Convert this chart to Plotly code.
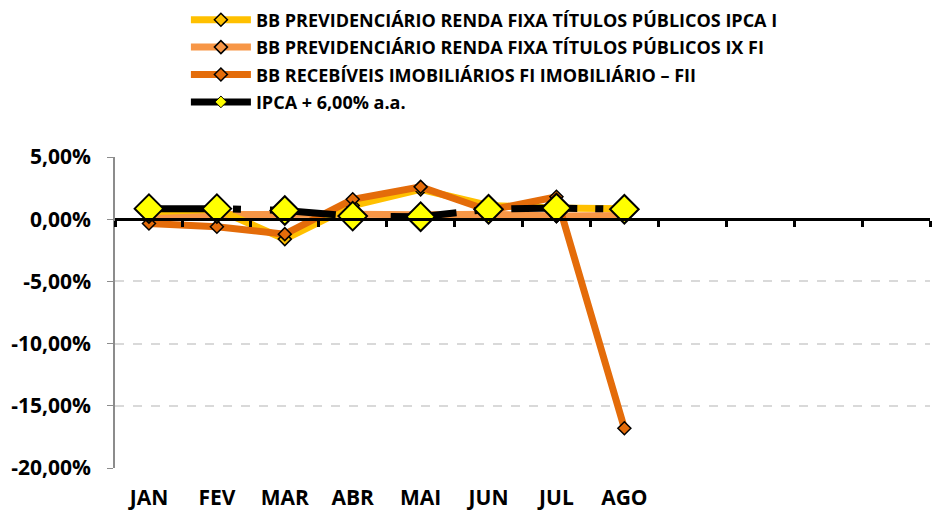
import plotly.graph_objects as go

months = ["JAN", "FEV", "MAR", "ABR", "MAI", "JUN", "JUL", "AGO", "SET", "OUT", "NOV", "DEZ"]
month_labels = ["JAN", "FEV", "MAR", "ABR", "MAI", "JUN", "JUL", "AGO", "", "", "", ""]

ipca_i = [0.6, 0.8, -1.6, 1.1, 2.4, 1.1, 0.9, 0.85]
ix_fi = [0.35, 0.4, 0.45, 0.4, 0.35, 0.4, 0.25, 0.3]
fii = [-0.35, -0.6, -1.2, 1.6, 2.6, 0.7, 1.8, -16.8]
meta = [0.85, 0.85, 0.7, 0.25, 0.2, 0.8, 0.9, 0.8]

y_ticks = [5, 0, -5, -10, -15, -20]
y_tick_text = ["5,00%", "0,00%", "-5,00%", "-10,00%", "-15,00%", "-20,00%"]

names = [
    "BB PREVIDENCIÁRIO RENDA FIXA TÍTULOS PÚBLICOS IPCA I",
    "BB PREVIDENCIÁRIO RENDA FIXA TÍTULOS PÚBLICOS IX FI",
    "BB RECEBÍVEIS IMOBILIÁRIOS FI IMOBILIÁRIO – FII",
    "IPCA + 6,00% a.a.",
]

FONT = "Open Sans"
fig = go.Figure()

def fund(y, name, color, rank):
    fig.add_trace(go.Scatter(
        x=months[:len(y)], y=y, name=name, mode="lines+markers",
        line=dict(color=color, width=7),
        marker=dict(symbol="diamond", size=10, color=color, line=dict(color="black", width=1.5)),
        legendrank=rank, legendgroup=name,
    ))

fund(ix_fi, names[1], "#F79646", 2)
fund(ipca_i, names[0], "#FFC000", 1)
fund(fii, names[2], "#E46C0A", 3)

fig.add_trace(go.Scatter(
    x=months[:len(meta)], y=meta, name=names[3], mode="lines+markers",
    line=dict(color="black", width=7, dash="66px,18px,8px,29px"),
    marker=dict(symbol="diamond", size=22, color="#FFFF00", line=dict(color="black", width=2)),
    showlegend=False, legendgroup=names[3],
))
# legend entry for the IPCA + 6% series (small marker, like the reference legend)
fig.add_trace(go.Scatter(
    x=[None], y=[None], name=names[3], mode="lines+markers",
    line=dict(color="black", width=7),
    marker=dict(symbol="diamond", size=9, color="#FFFF00", line=dict(color="black", width=1)),
    legendrank=4, legendgroup=names[3],
))

# invisible trace for the zero-line axis with ticks
fig.add_trace(go.Scatter(x=months, y=[None] * 12, xaxis="x2", showlegend=False, hoverinfo="skip"))

fig.update_layout(
    width=933, height=512,
    margin=dict(l=115, r=3, t=157, b=44, autoexpand=False),
    plot_bgcolor="white", paper_bgcolor="white",
    font=dict(family=FONT, color="black", weight="bold"),
    showlegend=True,
    legend=dict(
        x=0.087, xanchor="left", yref="paper", y=1.5, yanchor="top",
        font=dict(size=18, family=FONT, weight="bold"),
        itemwidth=60, tracegroupgap=1, bgcolor="rgba(0,0,0,0)",
    ),
    xaxis=dict(
        type="category", categoryorder="array", categoryarray=months,
        tickmode="array", tickvals=months, ticktext=month_labels,
        range=[-0.5, 11.5], showgrid=False, showline=False, zeroline=False,
        ticks="", ticklabelstandoff=15,
        tickfont=dict(size=21, family=FONT, weight="bold"),
    ),
    xaxis2=dict(
        type="category", categoryorder="array", categoryarray=months,
        overlaying="x", anchor="free", position=0.8, matches="x",
        range=[-0.5, 11.5], showgrid=False, zeroline=False,
        showline=True, linecolor="black", linewidth=3,
        ticks="outside", tickson="boundaries", ticklen=6, tickwidth=3, tickcolor="black",
        showticklabels=False,
    ),
    yaxis=dict(
        range=[-20, 5], tickmode="array", tickvals=y_ticks, ticktext=y_tick_text,
        showgrid=True, gridcolor="#D9D9D9", gridwidth=1.5, griddash="dash",
        zeroline=False, showline=True, linecolor="#8C8C8C", linewidth=1.5,
        ticks="outside", ticklen=6, tickcolor="#8C8C8C", ticklabelstandoff=12,
        tickfont=dict(size=21, family=FONT, weight="bold"),
    ),
)

fig.write_html("out.html", config={"displayModeBar": False},
               post_script="document.body.style.margin='0';")
